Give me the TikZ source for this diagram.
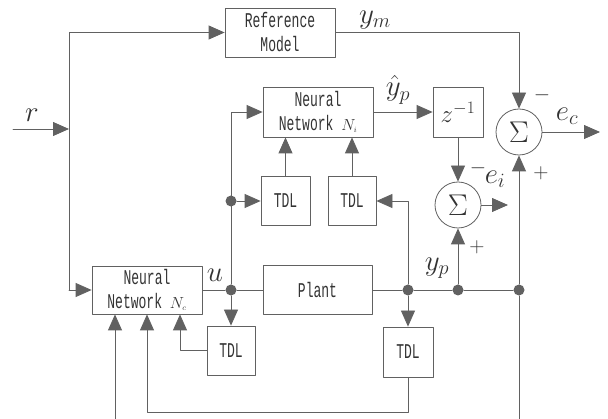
\RequirePackage{fix-cm}
\documentclass[tikz,border=0pt]{standalone}
\usepackage{fontspec}
\usetikzlibrary{arrows.meta}
\newfontfamily\boxfont[FakeStretch=0.62]{Liberation Mono}
\definecolor{ink}{gray}{0.38}
\definecolor{testo}{gray}{0.2}

\begin{document}
\begin{tikzpicture}[x=1pt, y=-1pt, line width=0.8pt, line cap=round, line join=round, color=ink,
    blocco/.style={draw=ink, text=testo, font=\boxfont\fontsize{21}{24}\selectfont, align=center, inner sep=0pt},
    somma/.style={draw=ink, circle, minimum size=46pt, inner sep=0pt, text=testo, font=\fontsize{30}{30}\selectfont},
    freccia/.style={-{Triangle[length=16pt, width=14pt]}},
    nodo/.style={circle, fill=ink, minimum size=11pt, inner sep=0pt},
    lab/.style={text=testo, inner sep=0.5pt, font=\fontsize{29}{29}\selectfont},
    segno/.style={text=testo, inner sep=0.5pt, font=\fontsize{21}{21}\selectfont}]
    \useasboundingbox (0,0) rectangle (608,419);

    % Blocchi
    \node[blocco, minimum width=110pt, minimum height=49pt] (rif) at (280,32.5) {Reference\\Model};
    \node[blocco, minimum width=110pt, minimum height=50pt] (nni) at (318,112) {Neural\\Network {\fontsize{16}{16}\selectfont$N_{\scriptscriptstyle i}$}};
    \node[blocco, minimum width=50pt, minimum height=50pt, font=\fontsize{25}{25}\selectfont] (zinv) at (458,112) {$z^{-1}$};
    \node[blocco, minimum width=49pt, minimum height=49pt] (tdl1) at (285.5,201) {TDL};
    \node[blocco, minimum width=48pt, minimum height=49pt] (tdl2) at (352,201) {TDL};
    \node[blocco, minimum width=110pt, minimum height=48pt] (nnc) at (147,290) {Neural\\Network {\fontsize{16}{16}\selectfont$N_{\scriptscriptstyle c}$}};
    \node[blocco, minimum width=109pt, minimum height=49pt] (plant) at (317.5,290) {Plant};
    \node[blocco, minimum width=48pt, minimum height=49pt] (tdl3) at (231,350.5) {TDL};
    \node[blocco, minimum width=50pt, minimum height=50pt] (tdl4) at (408,352) {TDL};

    % Sommatori
    \node[somma] (s1) at (519,132) {$\Sigma$};
    \node[somma] (s2) at (458,205) {$\Sigma$};

    % Punti di diramazione
    \node[nodo] (du) at (231,290) {};
    \node[nodo] (da) at (231,201) {};
    \node[nodo] (dp) at (408,290) {};
    \node[nodo] (dy) at (458,290) {};
    \node[nodo] (dr) at (519,290) {};
    \coordinate (rin) at (13,129);
    \coordinate (rgiu) at (69,290);
    \coordinate (eiout) at (508,205);
    \coordinate (ecout) at (600,132);
    \coordinate (fondo) at (408,412);
    \coordinate (rbasso) at (519,419);
    \coordinate (lbasso) at (115,419);

    % Riferimento
    \draw[freccia] (rin) -- (rin -| rgiu);
    \draw[freccia] (rgiu) |- (rif.west);
    \draw[freccia] (rgiu) -- (nnc.west);
    \draw[freccia] (rif.east) -| (s1.north);
    \draw[freccia] (s1.east) -- (ecout);

    % Catena principale
    \draw (nnc.east) -- (du) -- (plant.west);
    \draw (plant.east) -- (dp) -- (dy) -- (dr);
    \draw[freccia] (dr) -- (s1.south);
    \draw (dr) -- (rbasso);

    % Identificatore
    \draw[freccia] (du) |- (nni.west);
    \draw[freccia] (da) -- (tdl1.west);
    \draw[freccia] (dp) |- (tdl2.east);
    \draw[freccia] (tdl1.north) -- (tdl1.north |- nni.south);
    \draw[freccia] (tdl2.north) -- (tdl2.north |- nni.south);
    \draw[freccia] (nni.east) -- (zinv.west);
    \draw[freccia] (zinv.south) -- (s2.north);
    \draw[freccia] (dy) -- (s2.south);
    \draw[freccia] (s2.east) -- (eiout);

    % Controllore
    \draw[freccia] (du) -- (tdl3.north);
    \draw[freccia] (dp) -- (tdl4.north);
    \draw[freccia] (tdl3.west) -| ([xshift=33pt]nnc.south);
    \draw[freccia] (tdl4.south) -- (fondo) -| (nnc.south);
    \draw[freccia] (lbasso) -- ([xshift=-32pt]nnc.south);

    % Etichette
    \node[lab] (lr) at (32,115) {$r$};
    \node[lab] (lym) at (375,20) {$y_m$};
    \node[lab] (lyh) at (398,90) {$\hat{y}_p$};
    \node[lab] (lec) at (567,116) {$e_c$};
    \node[lab] (lei) at (495,179) {$e_i$};
    \node[lab] (lyp) at (437,268) {$y_p$};
    \node[lab] (lu) at (215,275) {$u$};
    \node[segno] (m1) at (542,95) {$-$};
    \node[segno] (p1) at (541,173) {$+$};
    \node[segno] (m2) at (478,168) {$-$};
    \node[segno] (p2) at (477,247) {$+$};
\end{tikzpicture}
\end{document}
